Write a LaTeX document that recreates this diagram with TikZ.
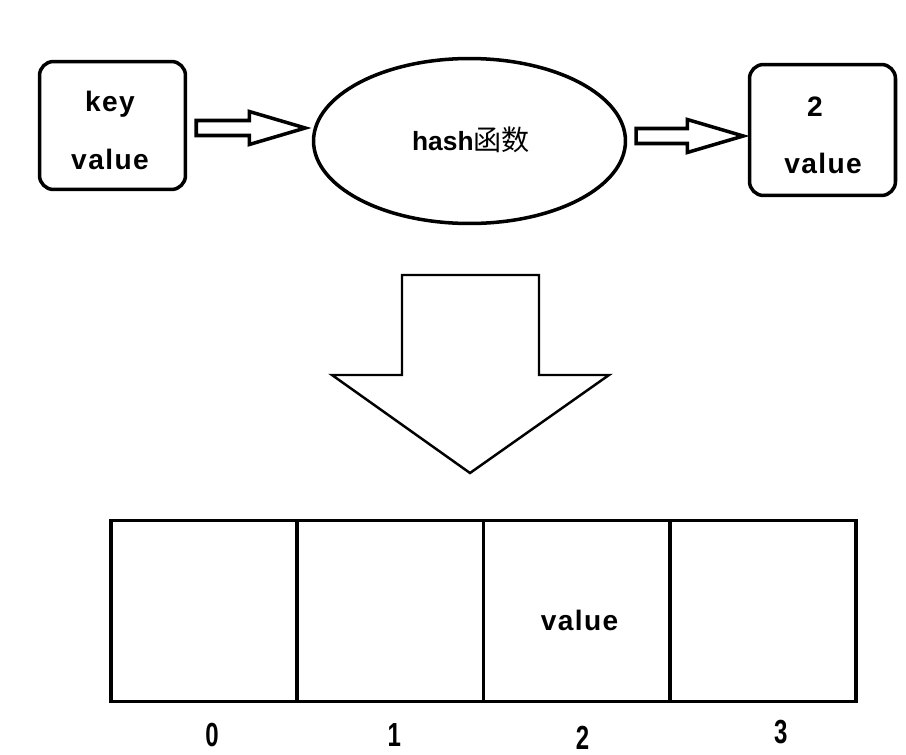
\documentclass[tikz,border=0pt]{standalone}
\usepackage{fontspec}
\setmainfont{Liberation Sans}
\newfontfamily\cjkfont{Noto Sans CJK SC}
\newfontfamily\widefont[LetterSpace=5]{Liberation Sans}
\usetikzlibrary{shapes.geometric, calc}
\tikzset{
  every picture/.style={line width=2pt, x=0.02cm, y=-0.02cm},
  kvbox/.style={draw, rounded corners=8pt, minimum width=2.92cm, minimum height=2.56cm, inner sep=0pt},
  hashnode/.style={draw, ellipse, inner sep=0pt, minimum width=6.24cm, minimum height=3.3cm},
  word/.style={font=\widefont\bfseries\fontsize{16}{18}\selectfont, inner sep=0pt, anchor=base},
  fat/.style={draw, line join=miter},
  slot/.style={draw, minimum width=3.725cm, minimum height=3.62cm, inner sep=0pt},
  idx/.style={font=\bfseries\fontsize{19}{21}\selectfont, inner sep=0pt, anchor=base},
}

\begin{document}
\begin{tikzpicture}
  \useasboundingbox (0,0) rectangle (906,754);
  % key/value in, hash, index out
  \node[kvbox] (kv) at (112.5,125.5) {};
  \node[word] (kvkey) at (110,111) {key};
  \node[word] (kvval) at (110,169) {value};
  \node[hashnode] (hash) at (469.5,141) {};
  \node[word, font=\bfseries\fontsize{15}{17}\selectfont] (hashtxt) at (471,150) {hash{\cjkfont\mdseries\fontsize{16}{18}\selectfont 函数}};
  \node[kvbox, minimum height=2.62cm] (res) at (822.5,130) {};
  \node[word] (residx) at (815,116) {2};
  \node[word] (resval) at (823,173) {value};
  % fat arrows
  \coordinate (a1s) at ($(kv.east)+(9,2.5)$);
  \coordinate (a1t) at ($(a1s -| hash.west)+(-6.5,0)$);
  \coordinate (a2s) at ($(hash.east)+(9,-5)$);
  \coordinate (a2t) at ($(a2s -| res.west)+(-4.5,0)$);
  \foreach \s/\t in {a1s/a1t, a2s/a2t}
    \draw[fat] ($(\s)+(0,-7.5)$) -- ($(\t)+(-56,-7.5)$) -- ($(\t)+(-56,-16.5)$) -- (\t)
      -- ($(\t)+(-56,16.5)$) -- ($(\t)+(-56,7.5)$) -- ($(\s)+(0,7.5)$) -- cycle;
  % big arrow down
  \draw[line width=1.4pt] (402,275) -- (539,275) -- (539,375) -- (609,375) -- (470,473)
    -- (332,375) -- (402,375) -- cycle;
  % the array
  \foreach \i in {0,...,3} \node[slot] (c\i) at (204.1+186.25*\i,611) {};
  \node[word] (cval) at ($(c2)+(3,19)$) {value};
  \foreach \i/\dx/\dy in {0/8/135, 1/4/135, 2/6/138, 3/18/132}
    \node[idx] (n\i) at ($(c\i)+(\dx,\dy)$) {\scalebox{0.72}[1]{\i}};
\end{tikzpicture}
\end{document}
